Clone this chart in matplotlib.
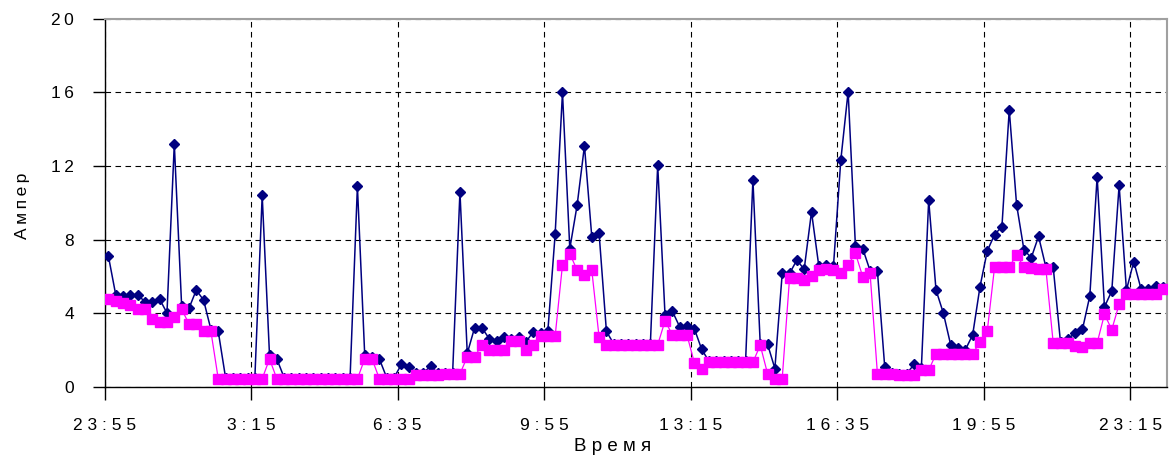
import matplotlib
matplotlib.use("Agg")
import matplotlib.pyplot as plt
import numpy as np

plt.rcParams['font.family'] = ['Liberation Sans', 'DejaVu Sans']

# Подписи оси времени (каждые 20 отсчётов по 10 минут)
tick_labels = ['23:55', '3:15', '6:35', '9:55', '13:15', '16:35', '19:55', '23:15']
tick_step = 20

# Ток, А (синяя кривая, ромбы)
current_1 = [
    7.1, 5.0, 4.9, 5.0, 5.0, 4.6, 4.6, 4.75, 4.0, 13.2,
    4.4, 4.25, 5.25, 4.7, 3.1, 3.0, 0.48, 0.48, 0.48, 0.48,
    0.48, 10.4, 1.7, 1.5, 0.48, 0.48, 0.48, 0.48, 0.48, 0.48,
    0.48, 0.48, 0.48, 0.48, 10.9, 1.7, 1.6, 1.5, 0.48, 0.48,
    1.2, 1.05, 0.75, 0.75, 1.1, 0.72, 0.72, 0.72, 10.6, 1.8,
    3.2, 3.2, 2.6, 2.45, 2.7, 2.6, 2.7, 2.42, 2.97, 2.9,
    3.0, 8.3, 16.0, 7.5, 9.87, 13.1, 8.15, 8.33, 3.0, 2.32,
    2.32, 2.32, 2.32, 2.32, 2.32, 12.05, 3.9, 4.1, 3.25, 3.3,
    3.15, 2.03, 1.37, 1.37, 1.37, 1.37, 1.37, 1.37, 11.25, 2.3,
    2.3, 0.98, 6.15, 6.15, 6.88, 6.38, 9.5, 6.55, 6.6, 6.55,
    12.32, 16.05, 7.62, 7.5, 6.3, 6.28, 1.05, 0.75, 0.68, 0.7,
    1.2, 1.0, 10.15, 5.25, 4.0, 2.27, 2.12, 2.0, 2.8, 5.42,
    7.38, 8.27, 8.7, 15.06, 9.9, 7.45, 7.0, 8.17, 6.5, 6.5,
    2.4, 2.6, 2.9, 3.12, 4.93, 11.42, 4.33, 5.2, 10.95, 5.25,
    6.8, 5.3, 5.32, 5.47, 5.4,
]

# Ток, А (розовая кривая, квадраты)
current_2 = [
    4.77, 4.68, 4.54, 4.41, 4.2, 4.2, 3.7, 3.5, 3.5, 3.77,
    4.2, 3.42, 3.42, 3.0, 3.0, 0.42, 0.42, 0.42, 0.42, 0.42,
    0.42, 0.42, 1.5, 0.42, 0.42, 0.42, 0.42, 0.42, 0.42, 0.42,
    0.42, 0.42, 0.42, 0.42, 0.42, 1.5, 1.5, 0.42, 0.42, 0.42,
    0.42, 0.42, 0.63, 0.63, 0.63, 0.63, 0.68, 0.68, 0.68, 1.62,
    1.62, 2.27, 1.97, 1.97, 1.97, 2.5, 2.5, 1.99, 2.25, 2.75,
    2.75, 2.75, 6.62, 7.23, 6.33, 6.05, 6.33, 2.68, 2.27, 2.27,
    2.27, 2.27, 2.27, 2.27, 2.27, 2.27, 3.57, 2.82, 2.8, 2.8,
    1.3, 0.98, 1.32, 1.32, 1.32, 1.32, 1.32, 1.32, 1.32, 2.25,
    0.7, 0.43, 0.43, 5.88, 5.88, 5.8, 6.02, 6.35, 6.4, 6.34,
    6.15, 6.63, 7.25, 5.97, 6.15, 0.7, 0.7, 0.7, 0.62, 0.62,
    0.62, 0.88, 0.88, 1.78, 1.78, 1.78, 1.78, 1.78, 1.78, 2.42,
    3.02, 6.52, 6.52, 6.52, 7.15, 6.52, 6.45, 6.37, 6.4, 2.38,
    2.38, 2.38, 2.22, 2.15, 2.37, 2.37, 3.93, 3.1, 4.47, 5.05,
    5.05, 5.05, 5.05, 5.05, 5.3,
]

n = len(current_1)
x = np.arange(n)

fig = plt.figure(figsize=(11.74, 4.63), dpi=100)
ax = fig.add_axes([0.0892, 0.1652, 0.9046, 0.7938])

ax.plot(x, current_1, color='#000080', lw=1.1, marker='D', ms=5.2,
        mec='#000080', mfc='#000080', zorder=3)
ax.plot(x, current_2, color='#FF00FF', lw=0.9, marker='s', ms=6.8,
        mec='#FF00FF', mfc='#FF00FF', zorder=4)

ax.set_xlim(-0.5, n - 0.5)
ax.set_ylim(0, 20)

thin = '\u2009'
ax.set_yticks(range(0, 21, 4))
ax.set_yticklabels([thin.join(str(v)) for v in range(0, 21, 4)])
ax.set_xticks([-0.5 + tick_step * k for k in range(len(tick_labels))])
ax.set_xticklabels([' '.join(s) for s in tick_labels])

ax.tick_params(axis='y', direction='out', length=9, width=1, pad=13,
               labelsize=12.5, colors='black')
ax.tick_params(axis='x', direction='out', length=9, width=1, pad=14,
               labelsize=12.5, colors='black')

ax.grid(True, color='black', lw=0.8, ls=(0, (5, 4)))
ax.set_axisbelow(True)

for side in ('left', 'bottom'):
    ax.spines[side].set_color('black')
    ax.spines[side].set_linewidth(1.0)
for side in ('top', 'right'):
    ax.spines[side].set_color('#a0a0a0')
    ax.spines[side].set_linewidth(1.5)

fig.text(0.522, 0.036, ' '.join('Время'), ha='center', va='center',
         fontsize=13.5)
fig.text(0.019, 0.555, thin.join('Ампер'), ha='center', va='center',
         rotation=90, fontsize=12.5)

fig.savefig('out.png', dpi=100)
